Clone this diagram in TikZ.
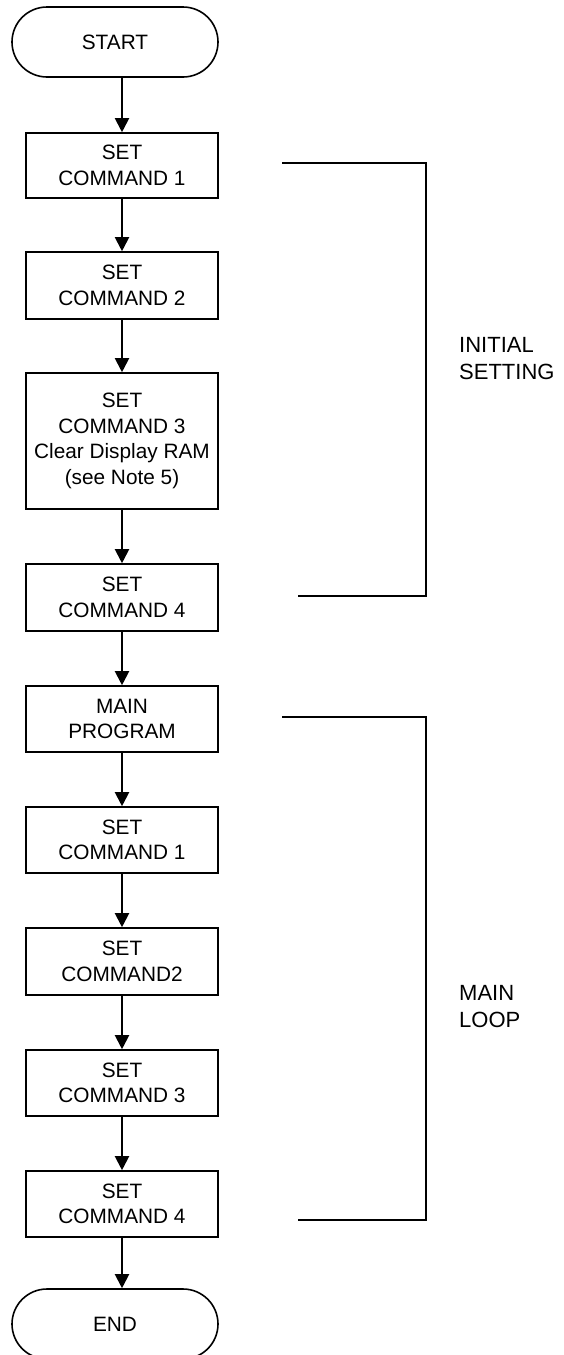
\documentclass[tikz,border=0pt]{standalone}
\usepackage{fontspec}
\setmainfont{Liberation Sans}
\usetikzlibrary{arrows.meta}
\begin{document}
\begin{tikzpicture}[x=1pt,y=-1pt,
  boxtext/.style={font=\fontsize{20.8}{25.6}\selectfont, align=center},
  stepbox/.style={boxtext, draw, line width=1.6pt, minimum width=192pt, inner sep=0pt},
  termbox/.style={boxtext, draw, line width=1.6pt, rounded corners=35pt, minimum width=206pt, minimum height=70pt, inner sep=0pt},
  flow/.style={line width=2pt, -{Triangle[length=14pt,width=14pt]}},
  bracket/.style={line width=2pt},
  sidelabel/.style={font=\fontsize{22}{27}\selectfont, align=left, anchor=north west, inner sep=0pt}
]
\useasboundingbox (0,0) rectangle (563,1355);
\node[termbox] (start) at (115,42) {START};
\node[stepbox, minimum height=65pt] (b1) at (122,165.5) {SET\\COMMAND 1};
\node[stepbox, minimum height=67pt] (b2) at (122,285.5) {SET\\COMMAND 2};
\node[stepbox, minimum height=136pt] (b3) at (122,441) {SET\\COMMAND 3\\Clear Display RAM\\(see Note 5)};
\node[stepbox, minimum height=67pt] (b4) at (122,597.5) {SET\\COMMAND 4};
\node[stepbox, minimum height=66pt] (mp) at (122,719) {MAIN\\PROGRAM};
\node[stepbox, minimum height=66pt] (c1) at (122,840) {SET\\COMMAND 1};
\node[stepbox, minimum height=67pt] (c2) at (122,961.5) {SET\\COMMAND2};
\node[stepbox, minimum height=66pt] (c3) at (122,1083) {SET\\COMMAND 3};
\node[stepbox, minimum height=66pt] (c4) at (122,1204) {SET\\COMMAND 4};
\node[termbox] (end) at (115,1324) {END};

\draw[flow] (b1.north |- start.south) -- (b1.north);
\draw[flow] (b1) -- (b2);
\draw[flow] (b2) -- (b3);
\draw[flow] (b3) -- (b4);
\draw[flow] (b4) -- (mp);
\draw[flow] (mp) -- (c1);
\draw[flow] (c1) -- (c2);
\draw[flow] (c2) -- (c3);
\draw[flow] (c3) -- (c4);
\draw[flow] (c4.south) -- (c4.south |- end.north);

\coordinate (ia) at (282,163);
\coordinate (ib) at (426,163);
\coordinate (ic) at (426,596);
\coordinate (id) at (298,596);
\draw[bracket] (ia) -- (ib) -- (ic) -- (id);
\node[sidelabel] (initlbl) at (459,337) {INITIAL\\SETTING};

\coordinate (ma) at (282,717);
\coordinate (mb) at (426,717);
\coordinate (mc) at (426,1220);
\coordinate (md) at (298,1220);
\draw[bracket] (ma) -- (mb) -- (mc) -- (md);
\node[sidelabel] (looplbl) at (459,985) {MAIN\\LOOP};
\end{tikzpicture}
\end{document}
